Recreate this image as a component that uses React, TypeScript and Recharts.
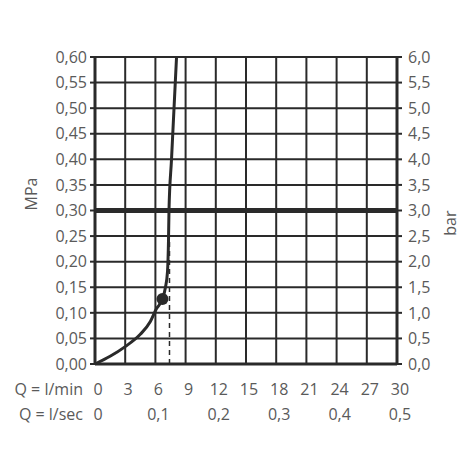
import React from 'react';
import { LineChart, Line, XAxis, YAxis, CartesianGrid, ReferenceLine, ReferenceDot } from 'recharts';

const flowLmin = [0, 1.5, 3, 4.5, 5.5, 6.1, 6.7, 7.0, 7.2, 7.3, 7.35, 7.6, 7.85, 8.1];
const pressureMPa = [0, 0.015, 0.034, 0.058, 0.083, 0.108, 0.127, 0.15, 0.18, 0.24, 0.3, 0.4, 0.5, 0.6];
const lminTicks = [0, 3, 6, 9, 12, 15, 18, 21, 24, 27, 30];
const lsecTicks = [0, 6, 12, 18, 24, 30];
const mpaTicks = [0, 0.05, 0.1, 0.15, 0.2, 0.25, 0.3, 0.35, 0.4, 0.45, 0.5, 0.55, 0.6];
const barTicks = [0, 0.5, 1, 1.5, 2, 2.5, 3, 3.5, 4, 4.5, 5, 5.5, 6];

const data = flowLmin.map((q, i) => ({ q, p: pressureMPa[i], bar: pressureMPa[i] * 10 }));

const FONT = '"Open Sans", sans-serif';
const TEXT = '#5a5a5a';
const INK = '#2a2a2a';
const FS = 16;

const fmt = (v: number, d: number) => v.toFixed(d).replace('.', ',');

function BottomTick(props: any) {
  const { x, y, payload, prefix, format, shift } = props;
  return (
    <g>
      {payload.value === 0 && (
        <text x={x - 12} y={y} dy={shift} textAnchor="end" fill={TEXT} fontSize={FS} fontFamily={FONT}>
          {prefix}
        </text>
      )}
      <text x={x + 3} y={y} dy={shift} textAnchor="middle" fill={TEXT} fontSize={FS} fontFamily={FONT}>
        {format(payload.value)}
      </text>
    </g>
  );
}

export default function App() {
  return (
    <div style={{ position: 'absolute', left: 0, top: 0, width: 470, height: 470, background: '#fff' }}>
      <LineChart width={470} height={470} data={data} margin={{ top: 57, right: 0, left: 0, bottom: 54 }}>
        <CartesianGrid xAxisId="min" yAxisId="mpa" stroke={INK} strokeWidth={2} />
        <XAxis
          xAxisId="min"
          dataKey="q"
          type="number"
          domain={[0, 30]}
          ticks={lminTicks}
          height={26}
          axisLine={{ stroke: INK, strokeWidth: 3 }}
          tickLine={false}
          tick={<BottomTick prefix="Q = l/min" shift={23} format={(v: number) => String(v)} />}
        />
        <XAxis
          xAxisId="sec"
          dataKey="q"
          type="number"
          domain={[0, 30]}
          ticks={lsecTicks}
          height={26}
          axisLine={false}
          tickLine={false}
          tick={<BottomTick prefix="Q = l/sec" shift={22} format={(v: number) => (v === 0 ? '0' : fmt(v / 60, 1))} />}
        />
        <YAxis
          yAxisId="mpa"
          domain={[0, 0.6]}
          ticks={mpaTicks}
          width={95}
          axisLine={{ stroke: INK, strokeWidth: 3 }}
          tickLine={{ stroke: INK, strokeWidth: 2 }}
          tickSize={5}
          tickMargin={3}
          tickFormatter={(v: number) => fmt(v, 2)}
          tick={{ fill: TEXT, fontSize: FS, fontFamily: FONT }}
          label={{ value: 'MPa', angle: -90, position: 'insideLeft', offset: 31, fill: TEXT, fontSize: FS, fontFamily: FONT }}
        />
        <YAxis
          yAxisId="bar"
          orientation="right"
          domain={[0, 6]}
          ticks={barTicks}
          width={73}
          axisLine={{ stroke: INK, strokeWidth: 3 }}
          tickLine={{ stroke: INK, strokeWidth: 2 }}
          tickSize={5}
          tickMargin={6}
          tickFormatter={(v: number) => fmt(v, 1)}
          tick={{ fill: TEXT, fontSize: FS, fontFamily: FONT }}
          label={{ value: 'bar', angle: -90, position: 'insideRight', offset: 20, fill: TEXT, fontSize: FS, fontFamily: FONT }}
        />
        <Line
          xAxisId="sec"
          yAxisId="bar"
          dataKey="bar"
          stroke="none"
          dot={false}
          activeDot={false}
          legendType="none"
          isAnimationActive={false}
        />
        <ReferenceLine xAxisId="min" yAxisId="mpa" y={0.3} stroke={INK} strokeWidth={5} />
        <ReferenceLine
          xAxisId="min"
          yAxisId="mpa"
          segment={[{ x: 7.4, y: 0 }, { x: 7.4, y: 0.24 }]}
          stroke={INK}
          strokeWidth={1.5}
          strokeDasharray="5 4"
        />
        <Line
          xAxisId="min"
          yAxisId="mpa"
          dataKey="p"
          type="monotone"
          stroke={INK}
          strokeWidth={3}
          dot={false}
          isAnimationActive={false}
        />
        <ReferenceDot xAxisId="min" yAxisId="mpa" x={6.7} y={0.127} r={6} fill={INK} stroke="none" />
      </LineChart>
    </div>
  );
}
